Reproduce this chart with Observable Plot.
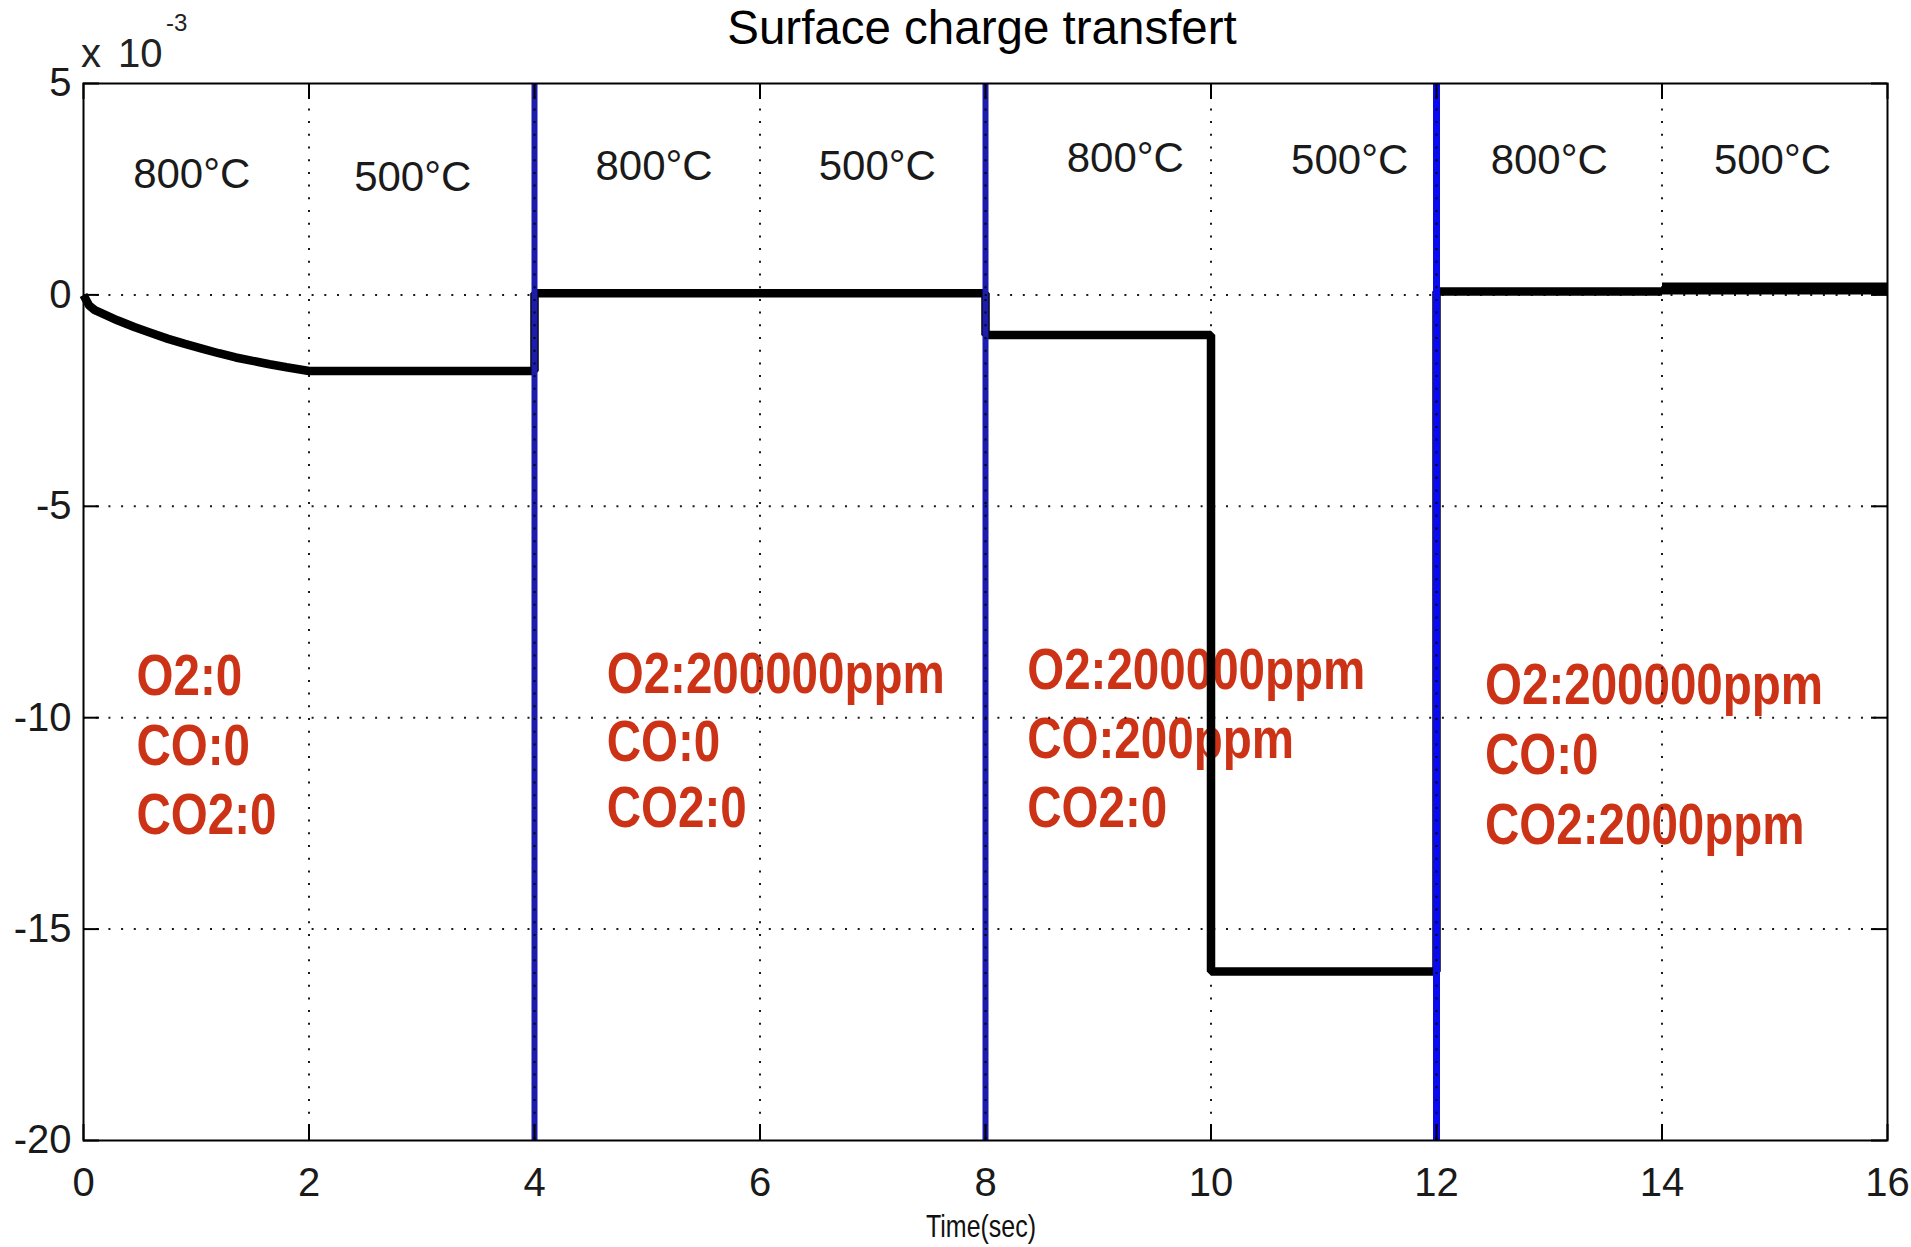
<!DOCTYPE html>
<html>
<head>
<meta charset="utf-8">
<script src="https://cdn.jsdelivr.net/npm/d3@7"></script>
<script src="https://cdn.jsdelivr.net/npm/@observablehq/plot@0.6"></script>
<style>
  body { margin: 0; background: #fff; }
  #wrap { position: relative; width: 1911px; height: 1247px; overflow: hidden; font-family: "Liberation Sans", Arial, sans-serif; color: #000; }
  .ov { position: absolute; white-space: nowrap; }
</style>
</head>
<body>
<div id="wrap">
  <div id="chart"></div>
  <div class="ov" style="left:482px;width:1000px;top:1px;text-align:center;font-size:47.5px;line-height:54px;">Surface charge transfert</div>
  <div class="ov" style="left:81px;top:33px;font-size:40px;line-height:40px;color:#222;word-spacing:6px;">x 10</div>
  <div class="ov" style="left:166px;top:11px;font-size:24px;line-height:24px;color:#222;">-3</div>
  <div class="ov" style="left:926px;top:1210px;font-size:32px;line-height:32px;color:#111;transform:scaleX(0.78);transform-origin:0 0;">Time(sec)</div>
</div>
<script>
// Time axis (s) and surface charge (x 10^-3)
const time   = [0, 0.05, 0.1, 0.15, 0.3, 0.45, 0.6, 0.75, 0.9, 1.05, 1.2, 1.35, 1.5, 1.65, 1.8, 2.0, 4.0, 4.0, 8.0, 8.0, 10.0, 10.0, 12.0, 12.0, 14.0];
const charge = [0, -0.25, -0.36, -0.42, -0.6, -0.76, -0.9, -1.04, -1.16, -1.27, -1.38, -1.48, -1.56, -1.64, -1.71, -1.8, -1.8, 0.04, 0.04, -0.95, -0.95, -16, -16, 0.08, 0.08];
// last segment (noisy, drawn thicker)
const timeLast   = [14.0, 16.0];
const chargeLast = [0.15, 0.15];

// gas switching instants (blue lines)
const switchTimes = [4, 8, 12];
const switchKind  = ["a", "a", "b"];

// tick values
const xTicks = [0, 2, 4, 6, 8, 10, 12, 14, 16];
const yTicks = [5, 0, -5, -10, -15, -20];
const xGrid = [2, 4, 6, 8, 10, 12, 14];
const yGrid = [0, -5, -10, -15];

// temperature annotations
const tempText = ["800°C", "500°C", "800°C", "500°C", "800°C", "500°C", "800°C", "500°C"];
const tempT    = [0.96, 2.92, 5.06, 7.04, 9.24, 11.23, 13.0, 14.98];
const tempV    = [2.85, 2.78, 3.04, 3.04, 3.22, 3.18, 3.18, 3.18];

// gas composition annotations
const gasText = ["O2:0", "CO:0", "CO2:0",
                 "O2:200000ppm", "CO:0", "CO2:0",
                 "O2:200000ppm", "CO:200ppm", "CO2:0",
                 "O2:200000ppm", "CO:0", "CO2:2000ppm"];
const gasT = [0.47, 0.47, 0.47, 4.64, 4.64, 4.64, 8.37, 8.37, 8.37, 12.43, 12.43, 12.43];
const gasV = [-9.03, -10.68, -12.32, -8.98, -10.6, -12.15, -8.89, -10.53, -12.15, -9.24, -10.91, -12.55];

const series = time.map((t, i) => ({t, v: charge[i]}));
const seriesLast = timeLast.map((t, i) => ({t, v: chargeLast[i]}));
const switches = switchTimes.map((t, i) => ({t, kind: switchKind[i]}));
const temps = tempText.map((s, i) => ({s, t: tempT[i], v: tempV[i]}));
const gases = gasText.map((s, i) => ({s, t: gasT[i], v: gasV[i]}));

const W = 1911, H = 1247, mL = 83, mR = 24, mT = 83, mB = 107;
const fw = W - mL - mR, fh = H - mT - mB;
const tick = 16;

const chart = Plot.plot({
  width: W, height: H,
  marginLeft: mL, marginRight: mR, marginTop: mT, marginBottom: mB,
  x: {domain: [0, 16]},
  y: {domain: [-20, 5]},
  style: {fontFamily: "'Liberation Sans', Arial, sans-serif", background: "#fff", color: "#000", overflow: "visible"},
  marks: [
    Plot.axisX(xTicks, {tickSize: 0, tickPadding: 27, fontSize: 40, label: null, fill: "#1a1a1a", tickFormat: d => String(d)}),
    Plot.axisY(yTicks, {tickSize: 0, tickPadding: 12, fontSize: 40, label: null, fill: "#1a1a1a", tickFormat: d => String(d)}),
    Plot.text(gases, {x: "t", y: "v", text: "s", textAnchor: "start", lineAnchor: "middle",
      fill: "#cc3316", fontWeight: "bold", fontSize: 57}),
    Plot.text(temps, {x: "t", y: "v", text: "s", textAnchor: "middle", lineAnchor: "middle",
      fill: "#1a1a1a", fontSize: 42}),
    Plot.line(series, {x: "t", y: "v", stroke: "#000", strokeWidth: 8.5, strokeLinejoin: "miter", strokeLinecap: "butt"}),
    Plot.line(seriesLast, {x: "t", y: "v", stroke: "#000", strokeWidth: 12, strokeLinecap: "butt"}),
    Plot.ruleX(switches.filter(d => d.kind === "a"), {x: "t", stroke: "#1c1cae", strokeWidth: 6}),
    Plot.ruleX(switches.filter(d => d.kind === "b"), {x: "t", stroke: "#0a0af0", strokeWidth: 7}),
    Plot.gridX(xGrid, {stroke: "#000", strokeOpacity: 0.9, strokeWidth: 2, strokeDasharray: "2,10.7"}),
    Plot.gridY(yGrid, {stroke: "#000", strokeOpacity: 0.9, strokeWidth: 2, strokeDasharray: "2,10.7"}),
    // inward ticks on all four sides
    Plot.ruleX(xTicks, {x: d => d, insetTop: fh - tick, stroke: "#000", strokeWidth: 2}),
    Plot.ruleX(xTicks, {x: d => d, insetBottom: fh - tick, stroke: "#000", strokeWidth: 2}),
    Plot.ruleY(yTicks, {y: d => d, insetRight: fw - tick, stroke: "#000", strokeWidth: 2}),
    Plot.ruleY(yTicks, {y: d => d, insetLeft: fw - tick, stroke: "#000", strokeWidth: 2}),
    Plot.frame({stroke: "#000", strokeWidth: 2})
  ]
});

// condense the bold gas labels horizontally (the original uses a narrow bold face)
const sx = 0.834;
const gasSet = new Set(gasText);
chart.querySelectorAll('text').forEach(el => {
  if (el.getAttribute("font-weight") !== "bold" && !(el.parentNode && el.parentNode.getAttribute && el.parentNode.getAttribute("font-weight") === "bold")) return;
  if (!gasSet.has(el.textContent)) return;
  const tr = el.getAttribute("transform");
  if (tr) {
    el.setAttribute("transform", tr + ` scale(${sx},1)`);
  } else {
    const x = +(el.getAttribute("x") || 0), y = +(el.getAttribute("y") || 0);
    el.removeAttribute("x"); el.removeAttribute("y");
    el.setAttribute("transform", `translate(${x},${y}) scale(${sx},1)`);
  }
});
document.getElementById("chart").appendChild(chart);
</script>
</body>
</html>
